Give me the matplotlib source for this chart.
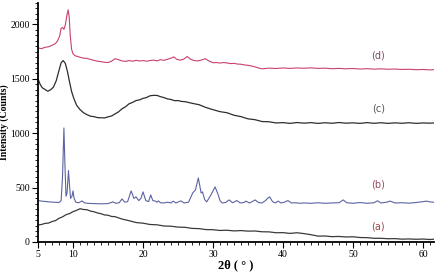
import matplotlib
matplotlib.use("Agg")
import matplotlib.pyplot as plt
from matplotlib.ticker import MultipleLocator

# (a) amorphous hump
a_x = [5, 5.5, 6, 6.5, 7, 7.5, 8, 8.5, 9, 9.5, 10, 10.5, 11, 11.5, 12, 12.5, 13, 13.5, 14, 14.5,
       15, 15.5, 16, 17, 18, 19, 20, 21, 22, 23, 24, 25, 26, 27, 28, 29, 30, 31, 32, 33, 34, 35,
       36, 37, 38, 39, 40, 41, 42, 43, 44, 45, 46, 47, 48, 49, 50, 51, 52, 53, 54, 55, 56, 57, 58,
       59, 60, 61, 61.5]
a_y = [156, 160, 170, 173, 187, 196, 217, 230, 250, 260, 278, 290, 305, 298, 296, 283, 277, 266,
       259, 248, 245, 234, 232, 210, 195, 178, 172, 160, 157, 146, 144, 136, 134, 124, 122, 113,
       112, 105, 107, 101, 104, 99, 100, 93, 92, 84, 85, 78, 84, 76, 66, 53, 54, 48, 50, 45, 47,
       40, 39, 33, 33, 29, 30, 25, 27, 24, 26, 22, 24]

# (b) crystalline pattern
b_x = [5, 5.5, 6, 6.5, 7, 7.5, 8.0, 8.3, 8.5, 8.7, 8.85, 9.0, 9.15, 9.35, 9.5, 9.65, 9.85, 10.0,
       10.15, 10.4, 10.8, 11.3, 11.6, 12, 13, 14, 15, 15.7, 16.1, 16.6, 17.0, 17.4, 17.8, 18.3,
       18.7, 19.0, 19.4, 19.7, 20.0, 20.4, 20.8, 21.1, 21.4, 21.7, 22.0, 22.2, 22.5, 23, 23.5, 24,
       24.3, 24.7, 25.4, 25.9, 26.5, 27.1, 27.5, 27.9, 28.1, 28.3, 28.5, 28.8, 29.1, 29.7, 30.3,
       30.7, 31.0, 31.3, 31.8, 32.3, 32.8, 33.4, 33.9, 34.4, 34.7, 35.2, 35.6, 36.0, 36.5, 37.0,
       37.5, 37.8, 38.1, 38.5, 38.9, 39.3, 39.7, 40.2, 40.7, 41.2, 41.7, 42.5, 43, 44, 45, 46, 47,
       48, 48.6, 49.1, 50, 51, 52, 53, 53.5, 54, 54.8, 55.3, 56, 57, 58, 59, 60, 60.5, 61, 61.5]
b_y = [380, 375, 372, 368, 366, 364, 362, 380, 600, 1048, 700, 420, 450, 656, 520, 400, 420, 469,
       400, 365, 360, 377, 360, 355, 352, 350, 352, 368, 355, 360, 395, 365, 370, 469, 400, 414,
       380, 400, 460, 380, 370, 432, 380, 377, 365, 377, 360, 358, 365, 358, 375, 358, 377, 358,
       365, 450, 480, 588, 520, 450, 460, 390, 368, 432, 506, 440, 380, 358, 362, 386, 360, 380,
       358, 362, 375, 358, 370, 386, 362, 358, 380, 400, 414, 370, 358, 375, 358, 365, 380, 358,
       360, 355, 358, 355, 360, 355, 358, 360, 386, 360, 355, 362, 355, 360, 378, 358, 365, 375,
       358, 360, 356, 362, 370, 375, 368, 365]

# (c)
c_x = [5, 5.3, 5.6, 6, 6.4, 6.8, 7.2, 7.6, 8.0, 8.3, 8.6, 8.9, 9.2, 9.5, 9.8, 10.1, 10.5, 11,
       11.5, 12, 12.5, 13, 13.5, 14, 14.5, 15, 15.5, 16, 16.5, 17, 17.5, 18, 18.5, 19, 19.5, 20,
       20.5, 21, 21.5, 22, 22.5, 23, 23.5, 24, 24.5, 25, 25.5, 26, 27, 28, 29, 30, 31, 32, 33, 34,
       35, 36, 37, 38, 39, 40, 41, 42, 43, 44, 45, 46, 47, 48, 49, 50, 51, 52, 53, 54, 55, 56, 57,
       58, 59, 60, 61, 61.5]
c_y = [1500, 1450, 1418, 1402, 1386, 1400, 1423, 1482, 1578, 1647, 1668, 1642, 1568, 1472, 1383,
       1322, 1258, 1217, 1188, 1170, 1156, 1152, 1143, 1142, 1140, 1150, 1158, 1177, 1196, 1224,
       1243, 1270, 1283, 1300, 1306, 1320, 1328, 1344, 1348, 1347, 1336, 1327, 1315, 1310, 1299,
       1300, 1292, 1290, 1275, 1262, 1236, 1216, 1198, 1188, 1165, 1152, 1132, 1124, 1107, 1105,
       1094, 1097, 1090, 1098, 1092, 1097, 1090, 1096, 1091, 1098, 1092, 1095, 1090, 1097, 1091,
       1096, 1090, 1095, 1091, 1096, 1090, 1094, 1092, 1094]

# (d)
d_x = [5, 5.5, 6, 6.5, 7, 7.5, 7.8, 8.1, 8.3, 8.5, 8.7, 8.9, 9.1, 9.3, 9.45, 9.6, 9.8, 10.0, 10.3,
       10.7, 11, 11.5, 12, 12.5, 13, 13.5, 14, 14.5, 15, 15.5, 16, 16.4, 17, 17.5, 18, 18.5, 19,
       19.5, 20, 20.5, 21, 21.5, 22, 22.5, 23, 23.5, 24, 24.4, 24.8, 25.3, 25.8, 26.3, 26.8, 27.3,
       27.8, 28.3, 28.9, 29.4, 30, 30.5, 31, 31.5, 32, 32.5, 33, 33.5, 34, 34.5, 35, 35.5, 36,
       36.5, 37, 37.5, 38, 39, 40, 41, 42, 43, 44, 45, 46, 47, 48, 49, 50, 51, 52, 53, 54, 55, 56,
       57, 58, 59, 60, 61, 61.5]
d_y = [1784, 1778, 1790, 1795, 1808, 1825, 1850, 1895, 1965, 1972, 1955, 1995, 2075, 2135, 2070,
       1900, 1770, 1730, 1712, 1705, 1698, 1690, 1688, 1678, 1670, 1662, 1658, 1652, 1650, 1662,
       1685, 1678, 1665, 1660, 1668, 1662, 1670, 1664, 1668, 1662, 1668, 1672, 1665, 1676, 1670,
       1680, 1690, 1702, 1680, 1672, 1680, 1705, 1680, 1668, 1665, 1672, 1685, 1665, 1648, 1650,
       1645, 1650, 1646, 1640, 1642, 1636, 1634, 1628, 1624, 1618, 1610, 1600, 1592, 1595, 1598,
       1595, 1600, 1596, 1600, 1597, 1601, 1596, 1598, 1593, 1596, 1592, 1595, 1590, 1593, 1589,
       1592, 1588, 1590, 1586, 1588, 1584, 1586, 1582, 1584]

labels = ["(a)", "(b)", "(c)", "(d)"]
label_x = [53.6, 53.6, 53.6, 53.6]
label_y = [138, 524, 1223, 1710]

fig = plt.figure(figsize=(4.37, 2.73), dpi=100)
ax = fig.add_axes([0.087, 0.114, 0.905, 0.876])

ax.plot(a_x, a_y, color="#3a3a3a", lw=0.9)
ax.plot(b_x, b_y, color="#5b64a3", lw=0.8)
ax.plot(c_x, c_y, color="#2e2e2e", lw=0.9)
ax.plot(d_x, d_y, color="#c8426a", lw=0.8)

label_colors = ["#9a4a4a", "#9a4a5a", "#555555", "#7a4a6a"]
for t, x, y, col in zip(labels, label_x, label_y, label_colors):
    ax.text(x, y, t, fontsize=7, color=col, ha="center", va="center", family="DejaVu Sans")

ax.set_xlim(5, 61.5)
ax.set_ylim(0, 2200)
ax.spines["top"].set_visible(False)
ax.spines["right"].set_visible(False)
ax.spines["left"].set_linewidth(1.3)
ax.spines["bottom"].set_linewidth(1.3)

ax.set_xticks([5, 10, 20, 30, 40, 50, 60])
ax.xaxis.set_minor_locator(MultipleLocator(1))
ax.set_yticks([0, 500, 1000, 1500, 2000])
ax.yaxis.set_minor_locator(MultipleLocator(50))
ax.tick_params(which="major", direction="out", length=4, width=0.8, labelsize=7, pad=2)
ax.tick_params(which="minor", direction="out", length=2, width=0.6)
for lab in ax.get_xticklabels() + ax.get_yticklabels():
    lab.set_family("Liberation Serif")

ax.set_xlabel("2θ ( ° )", family="Liberation Serif", fontsize=9, fontweight="bold", labelpad=0)
ax.set_ylabel("Intensity (Counts)", family="Liberation Serif", fontsize=7, fontweight="bold",
              labelpad=1)

fig.savefig("out.png", dpi=100)
